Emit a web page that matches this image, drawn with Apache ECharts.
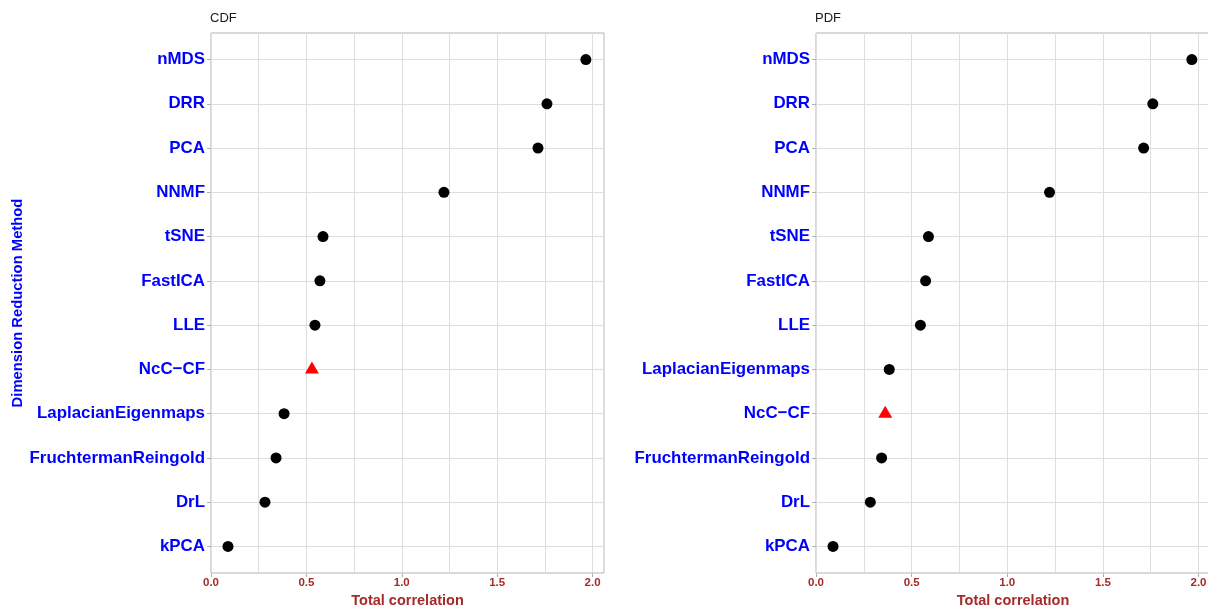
<!DOCTYPE html>
<html>
<head>
<meta charset="utf-8">
<script src="https://cdn.jsdelivr.net/npm/echarts@6/dist/echarts.min.js"></script>
<style>
  html, body { margin: 0; padding: 0; background: #ffffff; }
  #chart { width: 1208px; height: 608px; }
</style>
</head>
<body>
<div id="chart"></div>
<script>
// Methods from the bottom row to the top row of each panel
const methodsCdf = ['kPCA', 'DrL', 'FruchtermanReingold', 'LaplacianEigenmaps', 'NcC\u2212CF', 'LLE',
                    'FastICA', 'tSNE', 'NNMF', 'PCA', 'DRR', 'nMDS'];
const totalCorrCdf = [0.089, 0.283, 0.341, 0.383, 0.529, 0.545, 0.571, 0.587, 1.221, 1.714, 1.761, 1.965];

const methodsPdf = ['kPCA', 'DrL', 'FruchtermanReingold', 'NcC\u2212CF', 'LaplacianEigenmaps', 'LLE',
                    'FastICA', 'tSNE', 'NNMF', 'PCA', 'DRR', 'nMDS'];
const totalCorrPdf = [0.089, 0.284, 0.343, 0.362, 0.383, 0.546, 0.573, 0.588, 1.221, 1.713, 1.761, 1.965];

const highlightedMethod = 'NcC\u2212CF';
const panelTitles = ['CDF', 'PDF'];
const xTickValues = [0, 0.5, 1, 1.5, 2];
const xAxisMax = 2.06;

const FONT = '"Liberation Sans", Arial, Helvetica, sans-serif';
const BLUE = '#0000ff';
const BROWN = '#a52a2a';
const BORDER = '#b3b3b3';
const GRIDLINE = '#dedede';

const panels = [
  { methods: methodsCdf, values: totalCorrCdf, title: panelTitles[0], grid: { left: 211, top: 33, width: 393, height: 540 }, yTitle: true },
  { methods: methodsPdf, values: totalCorrPdf, title: panelTitles[1], grid: { left: 816, top: 33, width: 394, height: 540 }, yTitle: false }
];

const option = {
  animation: false,
  backgroundColor: '#ffffff',
  textStyle: { fontFamily: FONT },
  title: [],
  grid: [],
  xAxis: [],
  yAxis: [],
  series: []
};

panels.forEach((p, gi) => {
  const rowIndex = p.methods.map((_, i) => i);

  option.title.push({
    text: p.title,
    left: p.grid.left - 1,
    top: 12,
    padding: 0,
    textStyle: { fontFamily: FONT, fontSize: 13, fontWeight: 'normal', color: '#1a1a1a' }
  });

  option.grid.push(Object.assign({
    show: true, borderColor: BORDER, borderWidth: 1, backgroundColor: 'transparent',
    containLabel: false, outerBoundsMode: 'none'
  }, p.grid));

  // gridline axis: major and minor vertical lines every 0.25
  option.xAxis.push({
    type: 'value', gridIndex: gi, min: 0, max: xAxisMax, interval: 0.25,
    axisLine: { show: false }, axisTick: { show: false }, axisLabel: { show: false },
    splitLine: { show: true, lineStyle: { color: GRIDLINE, width: 1 } }
  });
  // labelled axis
  option.xAxis.push({
    type: 'value', gridIndex: gi, min: 0, max: xAxisMax, position: 'bottom',
    axisLine: { show: false },
    axisTick: { show: true, customValues: xTickValues, length: 4, lineStyle: { color: BORDER, width: 1 } },
    axisLabel: {
      show: true, customValues: xTickValues, margin: 4,
      formatter: v => v.toFixed(1),
      color: BROWN, fontWeight: 'bold', fontSize: 11.5, fontFamily: FONT
    },
    splitLine: { show: false },
    name: 'Total correlation', nameLocation: 'middle', nameGap: 17,
    nameTextStyle: { color: BROWN, fontWeight: 'bold', fontSize: 14.5, fontFamily: FONT }
  });

  option.yAxis.push({
    type: 'value', gridIndex: gi, min: -0.6, max: p.methods.length - 0.4,
    axisLine: { show: false },
    axisTick: { show: true, customValues: rowIndex, length: 4, lineStyle: { color: BORDER, width: 1 } },
    axisLabel: {
      show: true, customValues: rowIndex, margin: 6,
      formatter: v => p.methods[Math.round(v)],
      color: BLUE, fontWeight: 'bold', fontSize: 16.9, fontFamily: FONT
    },
    splitLine: { show: true, lineStyle: { color: GRIDLINE, width: 1 } },
    name: p.yTitle ? 'Dimension Reduction Method' : '',
    nameLocation: 'middle', nameGap: 186, nameRotate: 90,
    nameTextStyle: { color: BLUE, fontWeight: 'bold', fontSize: 14.8, fontFamily: FONT }
  });

  const regular = [];
  const special = [];
  p.methods.forEach((m, i) => {
    (m === highlightedMethod ? special : regular).push([p.values[i], i]);
  });

  option.series.push({
    type: 'scatter', xAxisIndex: gi * 2, yAxisIndex: gi,
    data: regular, symbol: 'circle', symbolSize: 11,
    itemStyle: { color: '#000000', opacity: 1 }, z: 5
  });
  option.series.push({
    type: 'scatter', xAxisIndex: gi * 2, yAxisIndex: gi,
    data: special, symbol: 'triangle', symbolSize: [14, 12], symbolOffset: [0, -2],
    itemStyle: { color: '#ff0000', opacity: 1 }, z: 5
  });
});

const chart = echarts.init(document.getElementById('chart'), null, { renderer: 'canvas' });
chart.setOption(option);
</script>
</body>
</html>
